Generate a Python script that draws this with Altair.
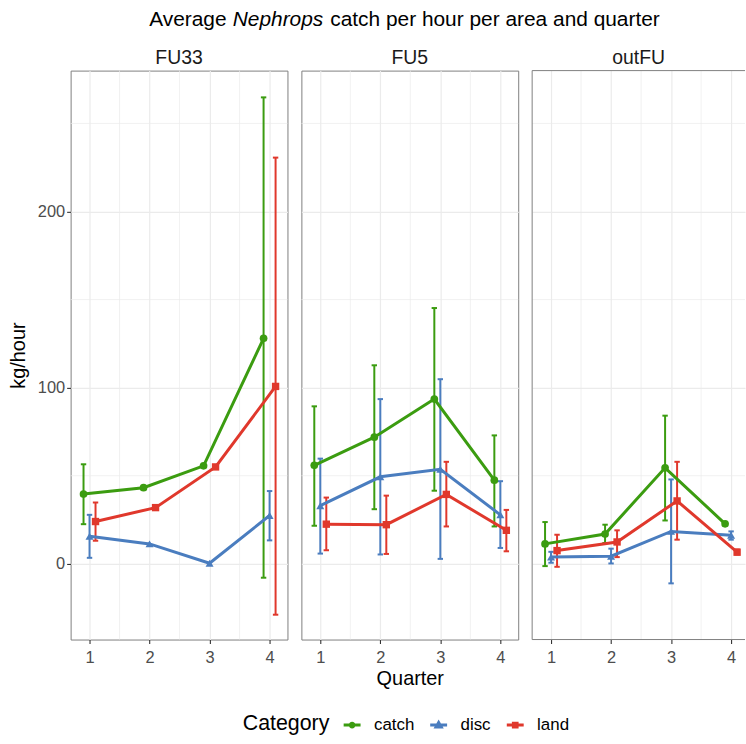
import altair as alt
import pandas as pd

FONT = "Liberation Sans"

areas = ["FU33", "FU5", "outFU"]
categories = ["catch", "disc", "land"]
quarters = [1, 2, 3, 4]

# Mean kg/hour per quarter and its lower / upper error limits (None: no bar)
fu33_mean = {"catch": [39.6, 43.2, 55.6, 128.0],
             "disc": [15.6, 11.3, 0.3, 27.4],
             "land": [24.0, 31.9, 55.0, 100.7]}
fu33_lo = {"catch": [22.5, None, None, -7.9],
           "disc": [3.4, None, None, 13.3],
           "land": [13.1, None, None, -28.9]}
fu33_hi = {"catch": [56.5, None, None, 264.8],
           "disc": [27.8, None, None, 41.3],
           "land": [34.8, None, None, 230.6]}

fu5_mean = {"catch": [55.9, 71.9, 93.5, 47.5],
            "disc": [33.0, 49.4, 53.7, 27.8],
            "land": [22.5, 22.2, 39.4, 19.0]}
fu5_lo = {"catch": [21.6, 31.0, 41.5, 21.2],
          "disc": [5.8, 5.3, 2.8, 9.0],
          "land": [7.7, 5.6, 21.2, 7.1]}
fu5_hi = {"catch": [89.4, 112.7, 145.2, 72.9],
          "disc": [59.7, 93.5, 104.8, 46.9],
          "land": [37.6, 38.7, 57.9, 30.6]}

outfu_mean = {"catch": [11.3, 16.9, 54.5, 22.7],
              "disc": [3.8, 4.3, 18.4, 16.2],
              "land": [7.5, 12.4, 35.7, 6.6]}
outfu_lo = {"catch": [-1.3, 11.8, 24.6, None],
            "disc": [0.6, 0.2, -11.1, 13.7],
            "land": [-1.7, 3.8, 13.7, 5.3]}
outfu_hi = {"catch": [23.7, 22.2, 84.1, None],
            "disc": [6.8, 8.6, 47.9, 18.4],
            "land": [16.5, 19.0, 57.9, 8.1]}

y_major = [0, 100, 200]
y_minor = [50, 150, 250]
x_minor = [1.5, 2.5, 3.5]

title_parts = ["Average", "Nephrops", "catch per hour per area and quarter"]

colors = ["#3b9c10", "#4a7dbf", "#e0382c"]
point_shapes = ["circle", "triangle-up", "square"]
# legend keys: a short line with the point on it (drawn with a thick stroke)
key_shapes = [
    "M-1,0L1,0M0.22,0A0.22,0.22,0,1,1,-0.22,0A0.22,0.22,0,1,1,0.22,0Z",
    "M-1,0L1,0M0,-0.3L0.3,0.22L-0.3,0.22Z",
    "M-1,0L1,0M-0.22,-0.22L0.22,-0.22L0.22,0.22L-0.22,0.22Z",
]
dodge = {"catch": -0.1, "disc": 0.0, "land": 0.1}
cap = 0.045

rows = []
for area, m, lo, hi in [("FU33", fu33_mean, fu33_lo, fu33_hi),
                        ("FU5", fu5_mean, fu5_lo, fu5_hi),
                        ("outFU", outfu_mean, outfu_lo, outfu_hi)]:
    for cat in categories:
        for i, q in enumerate(quarters):
            rows.append({"area": area, "category": cat, "quarter": q,
                         "value": m[cat][i], "lo": lo[cat][i], "hi": hi[cat][i]})
df = pd.DataFrame(rows)
df["xpos"] = df["quarter"] + df["category"].map(dodge)
df["xl"] = df["xpos"] - cap
df["xr"] = df["xpos"] + cap

GRID = "#ebebeb"
PANEL_H = 572
PX_PER_UNIT = 60.34
X_START = 0.685
Y_DOMAIN = [-43, 280]

color_scale = alt.Scale(domain=categories, range=colors)
shape_scale = alt.Scale(domain=categories, range=key_shapes)
legend = alt.Legend(
    orient="none", legendX=173, legendY=719, direction="horizontal",
    titleOrient="left", title="Category", titleFont=FONT,
    titleFontSize=21.5, titleFontWeight="normal", titleColor="black",
    titlePadding=12, titleBaseline="middle",
    labelFont=FONT, labelFontSize=17, labelColor="black",
    labelOffset=12, columnPadding=9, symbolSize=289,
    symbolStrokeWidth=3, symbolOpacity=1)


def panel(area, width, first=False, middle=False, last=False):
    d = df[df["area"] == area]
    xs = alt.Scale(domain=[X_START, X_START + width / PX_PER_UNIT], nice=False, zero=False)
    ys = alt.Scale(domain=Y_DOMAIN, nice=False, zero=False)
    xaxis = alt.Axis(values=quarters, format="d", grid=True, gridColor=GRID, gridWidth=1.2,
                     domain=False, tickColor="#333333", tickSize=4, tickWidth=1.1,
                     labelFont=FONT, labelFontSize=16.5, labelColor="#4d4d4d", labelPadding=6,
                     title="Quarter" if middle else None, titleFont=FONT, titleFontSize=20,
                     titleFontWeight="normal", titleColor="black", titlePadding=3)
    if first:
        yaxis = alt.Axis(values=y_major, grid=True, gridColor=GRID, gridWidth=1.2, domain=False,
                         tickColor="#333333", tickSize=4, tickWidth=1.1,
                         labelFont=FONT, labelFontSize=16.5, labelColor="#4d4d4d", labelPadding=2,
                         title="kg/hour", titleFont=FONT, titleFontSize=20,
                         titleFontWeight="normal", titleColor="black", titlePadding=9)
    else:
        yaxis = alt.Axis(values=y_major, grid=True, gridColor=GRID, gridWidth=1.2, domain=False,
                         ticks=False, labels=False, title=None)

    def X(field):
        return alt.X(f"{field}:Q", scale=xs, axis=xaxis)

    def Y(field):
        return alt.Y(f"{field}:Q", scale=ys, axis=yaxis)

    col = alt.Color("category:N", scale=color_scale, title="Category")

    minor_v = alt.Chart(pd.DataFrame({"gx": x_minor})).mark_rule(
        color=GRID, strokeWidth=0.7).encode(x=X("gx"))
    minor_h = alt.Chart(pd.DataFrame({"gy": y_minor})).mark_rule(
        color=GRID, strokeWidth=0.7).encode(y=Y("gy"))

    base = alt.Chart(d)
    bars = base.transform_filter("datum.lo != null").mark_rule(strokeWidth=2).encode(
        x=X("xpos"), y=Y("lo"), y2="hi:Q", color=col)
    caps_lo = base.transform_filter("datum.lo != null").mark_rule(strokeWidth=2).encode(
        x=X("xl"), x2="xr:Q", y=Y("lo"), color=col)
    caps_hi = base.transform_filter("datum.hi != null").mark_rule(strokeWidth=2).encode(
        x=X("xl"), x2="xr:Q", y=Y("hi"), color=col)
    lines = base.mark_line(strokeWidth=3).encode(x=X("xpos"), y=Y("value"), color=col)

    layers = [minor_v, minor_h, bars, caps_lo, caps_hi, lines]
    for cat, shp in zip(categories, point_shapes):
        size = 60 if shp == "circle" else (65 if shp == "triangle-up" else 55)
        layers.append(
            base.transform_filter(alt.datum.category == cat)
            .mark_point(filled=True, opacity=1, size=size, shape=shp)
            .encode(x=X("xpos"), y=Y("value"), color=col)
        )

    # invisible layer that feeds the shared Category legend
    layers.append(
        alt.Chart(pd.DataFrame({"category": categories})).mark_point(
            filled=False, opacity=0, size=289, strokeWidth=3).encode(
            color=alt.Color("category:N", scale=color_scale, title="Category", legend=legend),
            shape=alt.Shape("category:N", scale=shape_scale, title="Category", legend=legend),
        )
    )

    # strip label
    layers.append(
        alt.Chart(pd.DataFrame({"a": [area]})).mark_text(
            align="center", baseline="alphabetic", font=FONT, fontSize=19.5, color="#1a1a1a"
        ).encode(text="a:N", x=alt.value(width / 2), y=alt.value(-7))
    )

    if last:
        edge = pd.DataFrame({"e": [0]})
        layers.append(alt.Chart(edge).mark_rule(color="#7f7f7f", strokeWidth=1).encode(
            x=alt.value(0), y=alt.value(0), y2=alt.value(PANEL_H)))
        layers.append(alt.Chart(edge).mark_rule(color="#7f7f7f", strokeWidth=1).encode(
            x=alt.value(0), x2=alt.value(width), y=alt.value(0)))
        layers.append(alt.Chart(edge).mark_rule(color="#7f7f7f", strokeWidth=1).encode(
            x=alt.value(0), x2=alt.value(width), y=alt.value(PANEL_H)))

    chart = alt.layer(*layers).properties(width=width, height=PANEL_H)
    if last:
        chart = chart.properties(view=alt.ViewBackground(stroke="transparent"))
    return chart


# title line with the italic genus name
title_layers = []
for txt, sx in zip(title_parts, [79, 163, 261]):
    title_layers.append(
        alt.Chart(pd.DataFrame({"t": [txt]})).mark_text(
            align="left", baseline="alphabetic", font=FONT, fontSize=21,
            fontStyle="italic" if txt == "Nephrops" else "normal", color="black"
        ).encode(text="t:N", x=alt.value(sx), y=alt.value(26))
    )
title_chart = alt.layer(*title_layers).properties(
    width=600, height=32, view=alt.ViewBackground(stroke="transparent"))

panels = alt.hconcat(
    panel("FU33", 218, first=True),
    panel("FU5", 218, middle=True),
    panel("outFU", 214, last=True),
    spacing=12,
)

chart = alt.vconcat(title_chart, panels, spacing=14).properties(
    padding={"left": 7, "top": -3, "right": 0, "bottom": 0},
    background="white",
).configure_view(stroke="#7f7f7f", strokeWidth=1)

chart.save("out.html", embed_options={"renderer": "svg", "actions": False})
